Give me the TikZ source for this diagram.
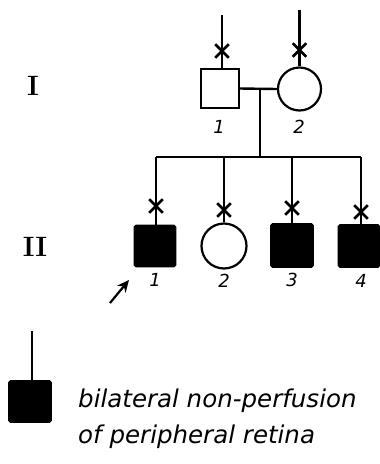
\documentclass[tikz,border=0pt]{standalone}
\usepackage{fontspec}
\newfontfamily\handfont{DejaVu Sans}
\usetikzlibrary{shapes.misc,arrows.meta}
\begin{document}
\begin{tikzpicture}[x=1pt,y=-1pt,
  line width=2.4pt,
  male/.style={draw,rectangle,minimum width=38pt,minimum height=39pt,inner sep=0pt,line width=1.6pt},
  female/.style={draw,circle,minimum size=43pt,inner sep=0pt,line width=2.2pt},
  aff/.style={fill=black,rounded corners=1.5pt},
  xmark/.style={draw,cross out,minimum width=11pt,minimum height=11pt,inner sep=0pt,line width=2.6pt},
  num/.style={font=\handfont\itshape\fontsize{18}{18}\selectfont},
  gen/.style={font=\bfseries\fontsize{28}{28}\selectfont},
  hand/.style={font=\handfont\itshape\fontsize{24.5}{24.5}\selectfont,anchor=base west,inner sep=0pt}]
\useasboundingbox (0,0) rectangle (380,464);
% generation I
\node[male] (m1) at (220,88.5) {};
\node[female] (f1) at (299.5,89) {};
\coordinate (m1top) at (222,15);
\coordinate (f1top) at (299.5,10);
\draw (m1top) -- (m1.north -| m1top);
\draw (f1top) -- (f1.north);
\node[xmark] (xm1) at (222,51) {};
\node[xmark] (xf1) at (299.5,50) {};
\draw (m1.east) -- (f1.west);
\coordinate (mar) at (260,89);
\coordinate (sib) at (260,157);
\draw (mar) -- (sib);
\node[num] (lm1) at (219,127) {1};
\node[num] (lf1) at (299,127) {2};
\node[gen] (g1) at (33,86) {I};
% generation II
\node[male,aff,minimum width=41pt,minimum height=41pt] (c1) at (155,246) {};
\node[female,minimum size=45pt] (c2) at (224,246) {};
\node[male,aff,minimum width=42pt,minimum height=43pt] (c3) at (292,245.5) {};
\node[male,aff,minimum width=41pt,minimum height=42pt] (c4) at (359,246) {};
\coordinate (sL) at (156,157);
\coordinate (sR) at (361,157);
\draw (sL) -- (sR);
\draw (sL) -- (c1.north -| sL);
\draw (c2 |- sib) -- (c2.north);
\draw (c3 |- sib) -- (c3.north);
\draw (sR) -- (sR |- c4.north);
\node[xmark] (x1) at (156,206) {};
\node[xmark] (x2) at (224,210) {};
\node[xmark] (x3) at (292,208) {};
\node[xmark] (x4) at (361,212) {};
\node[num] (l1) at (155,280) {1};
\node[num] (l2) at (224,281) {2};
\node[num] (l3) at (292,280) {3};
\node[num] (l4) at (361,281) {4};
\node[gen] (g2) at (35,247) {II};
\coordinate (arS) at (110,303);
\coordinate (arE) at (129,280);
\draw[-{Stealth[length=12pt,width=11pt]},line width=2.2pt] (arS) -- (arE);
% legend
\node[male,aff,minimum width=42pt,minimum height=41pt] (leg) at (30,401.5) {};
\coordinate (legtop) at (32,331);
\draw (legtop) -- (leg.north -| legtop);
\node[hand] (t1) at (77,407) {bilateral non-perfusion};
\node[hand] (t2) at (77,443) {of peripheral retina};
\end{tikzpicture}
\end{document}
